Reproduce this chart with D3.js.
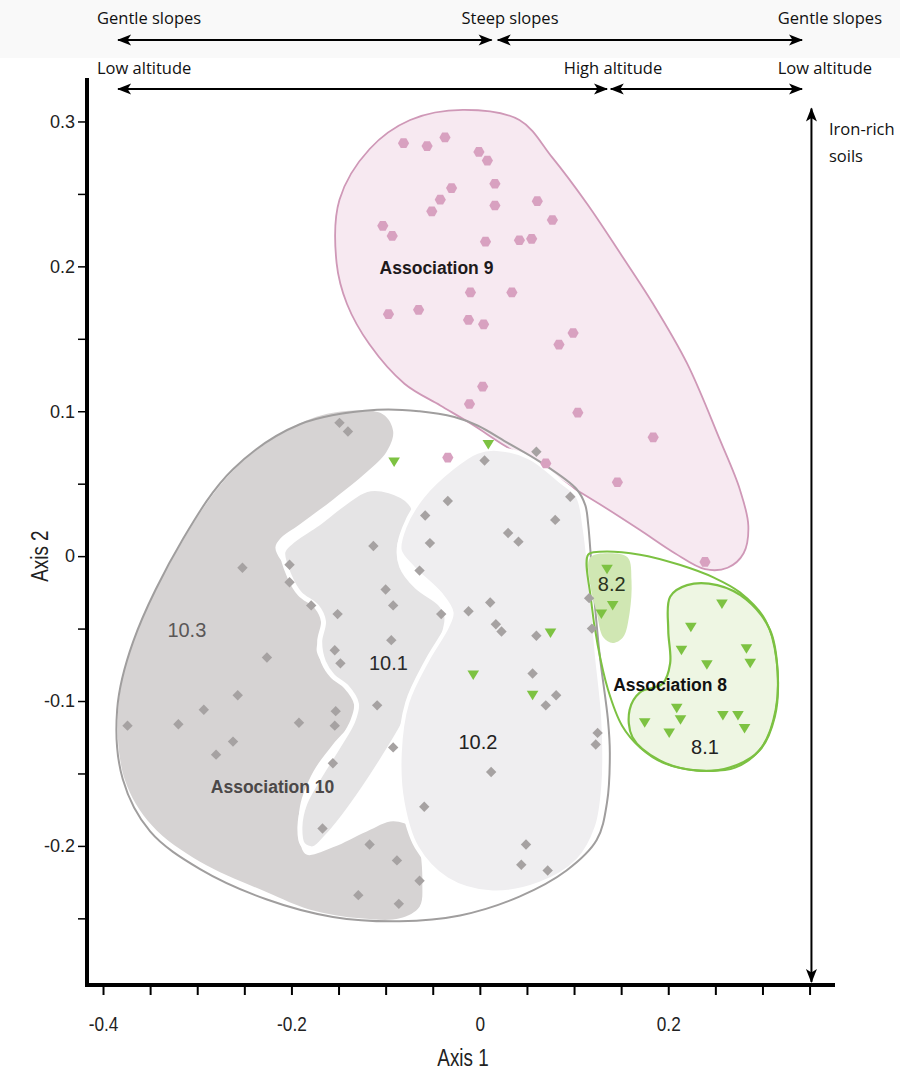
<!DOCTYPE html>
<html>
<head>
<meta charset="utf-8">
<script src="https://cdn.jsdelivr.net/npm/d3@7"></script>
<style>
body { margin: 0; background: #fff; }
svg { display: block; }
.note { font-family: "Open Sans", Lato, sans-serif; font-size: 16.5px; fill: #111; }
.axisText { font-family: "Liberation Sans", Arial, sans-serif; font-size: 23px; fill: #222; }
.yTick text { font-family: "Liberation Sans", Arial, sans-serif; font-size: 18px; fill: #222; }
.xTick text { font-family: "Liberation Sans", Arial, sans-serif; font-size: 21px; fill: #222; }
.assoc { font-family: "Liberation Sans", Arial, sans-serif; font-weight: bold; font-size: 17.5px; }
.sub { font-family: "Liberation Sans", Arial, sans-serif; font-size: 20px; }
</style>
</head>
<body>
<div class="chart"></div>
<script>
var svgWidth = 911;
var svgHeight = 1076;

// Association 9 (pink hexagons)
var assoc9 = [
    [-0.081, 0.285], [-0.056, 0.283], [-0.037, 0.289], [-0.001, 0.279], [0.008, 0.273],
    [-0.030, 0.254], [-0.042, 0.246], [-0.051, 0.238], [0.016, 0.257], [0.016, 0.242],
    [0.061, 0.245], [0.077, 0.232], [-0.103, 0.228], [-0.093, 0.221], [0.006, 0.217],
    [0.042, 0.218], [0.055, 0.219], [-0.010, 0.182], [0.034, 0.182], [-0.097, 0.167],
    [-0.065, 0.170], [-0.012, 0.163], [0.004, 0.160], [0.099, 0.154], [0.084, 0.146],
    [0.003, 0.117], [-0.011, 0.105], [0.104, 0.099], [0.184, 0.082], [-0.034, 0.068],
    [0.070, 0.064], [0.146, 0.051], [0.239, -0.004]
];

// Association 10 (grey diamonds)
var assoc10 = [
    [-0.149, 0.092], [-0.140, 0.086], [0.005, 0.066], [0.060, 0.072], [0.096, 0.041],
    [-0.034, 0.038], [-0.058, 0.028], [-0.053, 0.009], [-0.113, 0.007], [0.080, 0.025],
    [0.030, 0.016], [0.041, 0.010], [-0.064, -0.010], [-0.252, -0.008], [-0.202, -0.006],
    [-0.202, -0.018], [-0.100, -0.023], [-0.092, -0.034], [-0.179, -0.034], [-0.151, -0.040],
    [-0.041, -0.040], [-0.012, -0.038], [0.011, -0.032], [0.017, -0.047], [0.023, -0.052],
    [0.060, -0.055], [0.116, -0.029], [0.119, -0.050], [-0.094, -0.058], [-0.154, -0.065],
    [-0.148, -0.074], [-0.226, -0.070], [0.056, -0.081], [0.081, -0.096], [0.070, -0.103],
    [-0.257, -0.096], [-0.293, -0.106], [-0.320, -0.116], [-0.374, -0.117], [-0.192, -0.115],
    [-0.153, -0.107], [-0.154, -0.117], [-0.109, -0.103], [-0.262, -0.128], [-0.280, -0.137],
    [-0.156, -0.143], [-0.092, -0.132], [0.125, -0.122], [0.123, -0.130], [0.012, -0.149],
    [-0.059, -0.173], [-0.167, -0.188], [-0.117, -0.199], [-0.088, -0.210], [-0.064, -0.224],
    [-0.129, -0.234], [-0.086, -0.240], [0.049, -0.199], [0.044, -0.213], [0.072, -0.217]
];

// Association 8 (green triangles)
var assoc8 = [
    [-0.091, 0.065], [0.009, 0.077], [-0.007, -0.082], [0.075, -0.053], [0.056, -0.096],
    [0.135, -0.009], [0.141, -0.034], [0.129, -0.040], [0.257, -0.033], [0.224, -0.049],
    [0.214, -0.065], [0.283, -0.064], [0.287, -0.074], [0.241, -0.075], [0.209, -0.105],
    [0.213, -0.113], [0.175, -0.115], [0.201, -0.122], [0.258, -0.110], [0.274, -0.110],
    [0.281, -0.119]
];

// region outlines (axis units)
var hull9 = [
    [-0.018, 0.308], [0.042, 0.301], [0.077, 0.275], [0.114, 0.243], [0.149, 0.209],
    [0.184, 0.174], [0.220, 0.133], [0.255, 0.080], [0.276, 0.046], [0.285, 0.021],
    [0.280, 0.002], [0.263, -0.008], [0.239, -0.009], [0.207, 0.002], [0.170, 0.018],
    [0.127, 0.036], [0.074, 0.057], [0.027, 0.076], [-0.011, 0.092], [-0.042, 0.104],
    [-0.080, 0.119], [-0.117, 0.146], [-0.141, 0.174], [-0.152, 0.202], [-0.149, 0.246],
    [-0.117, 0.281], [-0.074, 0.301]
];
var hull10 = [
    [-0.109, 0.101], [-0.064, 0.100], [-0.027, 0.096], [-0.002, 0.090], [0.030, 0.078],
    [0.064, 0.065], [0.103, 0.046], [0.112, 0.035], [0.115, 0.022], [0.119, -0.010],
    [0.127, -0.067], [0.136, -0.113], [0.138, -0.136], [0.135, -0.170], [0.124, -0.196],
    [0.092, -0.217], [0.042, -0.235], [-0.021, -0.248], [-0.085, -0.252], [-0.156, -0.249],
    [-0.226, -0.237], [-0.297, -0.216], [-0.350, -0.190], [-0.379, -0.154], [-0.385, -0.106],
    [-0.368, -0.059], [-0.315, 0.012], [-0.262, 0.060], [-0.191, 0.091]
];
var hull10_3 = [
    [-0.156, 0.099], [-0.103, 0.098], [-0.092, 0.086], [-0.099, 0.072], [-0.120, 0.058],
    [-0.156, 0.039], [-0.191, 0.022], [-0.212, 0.012], [-0.217, 0.006], [-0.212, -0.002],
    [-0.199, -0.011], [-0.177, -0.028], [-0.167, -0.040], [-0.170, -0.054], [-0.173, -0.066],
    [-0.159, -0.080], [-0.141, -0.090], [-0.131, -0.101], [-0.138, -0.116], [-0.156, -0.130],
    [-0.177, -0.149], [-0.191, -0.173], [-0.191, -0.197], [-0.184, -0.206], [-0.156, -0.201],
    [-0.120, -0.190], [-0.092, -0.183], [-0.071, -0.188], [-0.064, -0.201], [-0.061, -0.226],
    [-0.064, -0.242], [-0.085, -0.250], [-0.127, -0.250], [-0.180, -0.244], [-0.226, -0.232],
    [-0.297, -0.211], [-0.348, -0.186], [-0.377, -0.154], [-0.384, -0.106], [-0.368, -0.059],
    [-0.315, 0.011], [-0.262, 0.059], [-0.202, 0.088]
];
var hull10_1 = [
    [-0.120, 0.046], [-0.096, 0.045], [-0.074, 0.037], [-0.069, 0.029], [-0.076, 0.020],
    [-0.085, 0.008], [-0.083, -0.007], [-0.067, -0.021], [-0.042, -0.033], [-0.035, -0.042],
    [-0.039, -0.056], [-0.050, -0.073], [-0.064, -0.092], [-0.081, -0.116], [-0.103, -0.140],
    [-0.124, -0.161], [-0.145, -0.180], [-0.163, -0.194], [-0.177, -0.202], [-0.188, -0.199],
    [-0.191, -0.187], [-0.186, -0.171], [-0.170, -0.152], [-0.149, -0.130], [-0.135, -0.114],
    [-0.131, -0.102], [-0.142, -0.090], [-0.156, -0.083], [-0.166, -0.073], [-0.170, -0.059],
    [-0.166, -0.045], [-0.173, -0.035], [-0.191, -0.026], [-0.202, -0.014], [-0.209, 0.003],
    [-0.198, 0.011], [-0.173, 0.022], [-0.145, 0.036]
];
var hull10_2 = [
    [0.018, 0.074], [0.053, 0.068], [0.085, 0.052], [0.104, 0.041], [0.111, 0.020],
    [0.118, -0.021], [0.124, -0.067], [0.131, -0.113], [0.131, -0.159], [0.124, -0.187],
    [0.104, -0.210], [0.064, -0.226], [0.011, -0.232], [-0.035, -0.223], [-0.067, -0.201],
    [-0.082, -0.170], [-0.085, -0.136], [-0.077, -0.101], [-0.056, -0.072], [-0.035, -0.049],
    [-0.030, -0.039], [-0.042, -0.026], [-0.071, -0.008], [-0.085, 0.004], [-0.080, 0.020],
    [-0.061, 0.041], [-0.029, 0.061], [-0.003, 0.072]
];
var hull8 = [
    [0.115, 0.001], [0.127, 0.003], [0.170, 0.001], [0.212, -0.006], [0.249, -0.015],
    [0.276, -0.025], [0.303, -0.044], [0.315, -0.072], [0.314, -0.106], [0.299, -0.132],
    [0.271, -0.146], [0.234, -0.148], [0.196, -0.143], [0.170, -0.132], [0.151, -0.117],
    [0.136, -0.092], [0.125, -0.061], [0.118, -0.030]
];
var hull8_1 = [
    [0.202, -0.028], [0.220, -0.020], [0.252, -0.020], [0.283, -0.030], [0.308, -0.051],
    [0.316, -0.079], [0.313, -0.111], [0.297, -0.134], [0.265, -0.146], [0.230, -0.148],
    [0.191, -0.141], [0.162, -0.125], [0.159, -0.106], [0.170, -0.094], [0.194, -0.088],
    [0.202, -0.074], [0.200, -0.051]
];
var hull8_2 = [
    [0.117, -0.001], [0.138, 0.002], [0.157, -0.001], [0.161, -0.017], [0.159, -0.039],
    [0.152, -0.056], [0.141, -0.060], [0.131, -0.056], [0.124, -0.039], [0.117, -0.019]
];

var xTicks = [-0.4, -0.35, -0.3, -0.25, -0.2, -0.15, -0.1, -0.05, 0, 0.05, 0.1, 0.15, 0.2, 0.25, 0.3, 0.35];
var xTickLabels = {"-0.4": "-0.4", "-0.2": "-0.2", "0": "0", "0.2": "0.2"};
var yTicks = [0.3, 0.25, 0.2, 0.15, 0.1, 0.05, 0, -0.05, -0.1, -0.15, -0.2, -0.25];
var yTickLabels = {"0.3": "0.3", "0.2": "0.2", "0.1": "0.1", "0": "0", "-0.1": "-0.1", "-0.2": "-0.2"};

var regionLabels = [
    {text: "Association 9", x: -0.046, y: 0.199, cls: "assoc", color: "#1e1a1c"},
    {text: "Association 10", x: -0.220, y: -0.159, cls: "assoc", color: "#4b4848"},
    {text: "Association 8", x: 0.202, y: -0.089, cls: "assoc", color: "#111"},
    {text: "10.3", x: -0.311, y: -0.051, cls: "sub", color: "#5a5757"},
    {text: "10.1", x: -0.097, y: -0.074, cls: "sub", color: "#2a2a2a"},
    {text: "10.2", x: -0.002, y: -0.128, cls: "sub", color: "#222"},
    {text: "8.2", x: 0.140, y: -0.019, cls: "sub", color: "#2a3320"},
    {text: "8.1", x: 0.239, y: -0.132, cls: "sub", color: "#222"}
];

// gradient arrows (axis units along x)
var slopeArrows = [[-0.384, 0.0125], [0.019, 0.342]];
var altitudeArrows = [[-0.384, 0.135], [0.139, 0.342]];
var ironArrow = {x: 0.352, y0: 0.309, y1: -0.294};

var xScale = d3.scaleLinear().domain([-0.417, 0.377]).range([87, 835]);
var yScale = d3.scaleLinear().domain([-0.296, 0.33]).range([985, 78]);

var narrow = 0.82;

var $svg = d3.select(".chart")
    .append("svg")
    .attr("width", svgWidth)
    .attr("height", svgHeight);

// faint scan background in the header strip
$svg.append("rect").attr("x", 0).attr("y", 0).attr("width", 900).attr("height", 58).attr("fill", "#f9f9f9");

var defs = $svg.append("defs");
defs.append("marker")
    .attr("id", "arrowHead")
    .attr("viewBox", "-14 -6 16 12")
    .attr("refX", 0).attr("refY", 0)
    .attr("markerWidth", 16).attr("markerHeight", 12)
    .attr("markerUnits", "userSpaceOnUse")
    .attr("orient", "auto-start-reverse")
    .append("path")
    .attr("d", "M1,0 L-13,-5.5 L-9.5,0 L-13,5.5 Z")
    .attr("fill", "#000");

var hullLine = d3.line()
    .x(d => xScale(d[0]))
    .y(d => yScale(d[1]))
    .curve(d3.curveCatmullRomClosed.alpha(0.5));

// regions
$svg.append("path").attr("d", hullLine(hull9))
    .attr("fill", "#f7e9f1").attr("stroke", "#cf98b7").attr("stroke-width", 1.8);

$svg.append("path").attr("d", hullLine(hull10_3))
    .attr("fill", "#d6d3d3").attr("stroke", "none");
$svg.append("path").attr("d", hullLine(hull10_1))
    .attr("fill", "#e5e4e5").attr("stroke", "#fff").attr("stroke-width", 5);
$svg.append("path").attr("d", hullLine(hull10_2))
    .attr("fill", "#efeef0").attr("stroke", "#fff").attr("stroke-width", 4);
$svg.append("path").attr("d", hullLine(hull10))
    .attr("fill", "none").attr("stroke", "#a09e9e").attr("stroke-width", 2);

$svg.append("path").attr("d", hullLine(hull8_1))
    .attr("fill", "#eef6e3").attr("stroke", "#7cc142").attr("stroke-width", 2.2);
$svg.append("path").attr("d", hullLine(hull8_2))
    .attr("fill", "#d0e7b3").attr("stroke", "none");
$svg.append("path").attr("d", hullLine(hull8))
    .attr("fill", "none").attr("stroke", "#7cc142").attr("stroke-width", 2);

// markers
var hexPath = d3.range(6).map(i => {
    var a = Math.PI / 3 * i;
    return [5.6 * Math.cos(a), 5.6 * Math.sin(a)];
});
hexPath = "M" + hexPath.map(p => p[0].toFixed(2) + "," + p[1].toFixed(2)).join("L") + "Z";

$svg.append("g").selectAll("path")
    .data(assoc10)
    .enter()
    .append("path")
    .attr("d", "M0,-5.2 L5.2,0 L0,5.2 L-5.2,0 Z")
    .attr("transform", d => `translate(${xScale(d[0])},${yScale(d[1])})`)
    .attr("fill", "#a6a2a2");

$svg.append("g").selectAll("path")
    .data(assoc9)
    .enter()
    .append("path")
    .attr("d", hexPath)
    .attr("transform", d => `translate(${xScale(d[0])},${yScale(d[1])})`)
    .attr("fill", "#d8a1c0");

$svg.append("g").selectAll("path")
    .data(assoc8)
    .enter()
    .append("path")
    .attr("d", "M-5.8,-4.5 L5.8,-4.5 L0,5 Z")
    .attr("transform", d => `translate(${xScale(d[0])},${yScale(d[1])})`)
    .attr("fill", "#7dc242");

// region labels
$svg.append("g").selectAll("text")
    .data(regionLabels)
    .enter()
    .append("text")
    .attr("class", d => d.cls)
    .attr("x", d => xScale(d.x))
    .attr("y", d => yScale(d.y))
    .attr("dy", "0.35em")
    .attr("text-anchor", "middle")
    .attr("fill", d => d.color)
    .text(d => d.text);

// axes
var xAxis = d3.axisBottom(xScale)
    .tickValues(xTicks)
    .tickSize(10)
    .tickPadding(21)
    .tickFormat(d => xTickLabels[String(+d.toFixed(2))] || "");
var $xAxis = $svg.append("g")
    .attr("class", "xTick")
    .attr("transform", `translate(0,${985})`)
    .call(xAxis);
$xAxis.select(".domain").remove();
$xAxis.selectAll("line").attr("stroke", "#000").attr("stroke-width", 2);
$xAxis.selectAll("text").attr("transform", `scale(${narrow},1)`);

var yAxis = d3.axisLeft(yScale)
    .tickValues(yTicks)
    .tickSize(8)
    .tickPadding(3)
    .tickFormat(d => yTickLabels[String(+d.toFixed(2))] || "");
var $yAxis = $svg.append("g")
    .attr("class", "yTick")
    .attr("transform", `translate(${86},0)`)
    .call(yAxis);
$yAxis.select(".domain").remove();
$yAxis.selectAll("line").attr("stroke", "#000").attr("stroke-width", 1.5);

$svg.append("line")
    .attr("x1", 87).attr("x2", 87)
    .attr("y1", yScale.range()[1]).attr("y2", 987)
    .attr("stroke", "#000").attr("stroke-width", 4);
$svg.append("line")
    .attr("x1", 85).attr("x2", xScale.range()[1])
    .attr("y1", 985).attr("y2", 985)
    .attr("stroke", "#000").attr("stroke-width", 4);

$svg.append("text")
    .attr("class", "axisText")
    .attr("transform", `translate(463,1058) scale(${narrow},1)`)
    .attr("dy", "0.35em")
    .attr("text-anchor", "middle")
    .text("Axis 1");
$svg.append("text")
    .attr("class", "axisText")
    .attr("transform", `translate(40,${yScale(0)}) rotate(-90) scale(${narrow},1)`)
    .attr("dy", "0.35em")
    .attr("text-anchor", "middle")
    .text("Axis 2");

// gradient annotations
function hArrow(span, y) {
    $svg.append("line")
        .attr("x1", xScale(span[0])).attr("x2", xScale(span[1]))
        .attr("y1", y).attr("y2", y)
        .attr("stroke", "#000").attr("stroke-width", 2)
        .attr("marker-start", "url(#arrowHead)")
        .attr("marker-end", "url(#arrowHead)");
}
slopeArrows.forEach(s => hArrow(s, 40));
altitudeArrows.forEach(s => hArrow(s, 89));

$svg.append("line")
    .attr("x1", xScale(ironArrow.x)).attr("x2", xScale(ironArrow.x))
    .attr("y1", yScale(ironArrow.y0)).attr("y2", yScale(ironArrow.y1))
    .attr("stroke", "#000").attr("stroke-width", 2)
    .attr("marker-start", "url(#arrowHead)")
    .attr("marker-end", "url(#arrowHead)");

var notes = [
    {text: "Gentle slopes", x: 97, y: 24, anchor: "start"},
    {text: "Steep slopes", x: 510, y: 24, anchor: "middle"},
    {text: "Gentle slopes", x: 882, y: 24, anchor: "end"},
    {text: "Low altitude", x: 97, y: 74, anchor: "start"},
    {text: "High altitude", x: 613, y: 74, anchor: "middle"},
    {text: "Low altitude", x: 872, y: 74, anchor: "end"},
    {text: "Iron-rich", x: 829, y: 135, anchor: "start"},
    {text: "soils", x: 829, y: 162, anchor: "start"}
];
$svg.append("g").selectAll("text")
    .data(notes)
    .enter()
    .append("text")
    .attr("class", "note")
    .attr("x", d => d.x)
    .attr("y", d => d.y)
    .attr("text-anchor", d => d.anchor)
    .text(d => d.text);
</script>
</body>
</html>
